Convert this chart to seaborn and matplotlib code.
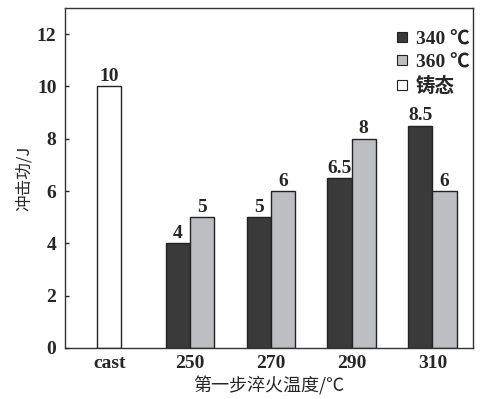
import pandas as pd
import matplotlib
matplotlib.use("Agg")
import matplotlib.pyplot as plt
import seaborn as sns
from matplotlib.lines import Line2D

# data
categories = ["cast", "250", "270", "290", "310"]
temps = ["250", "270", "290", "310"]
impact_340 = [4, 5, 6.5, 8.5]
impact_360 = [5, 6, 8, 6]
cast_value = [10]
series_names = ["340 ℃", "360 ℃", "铸态"]

sns.set_theme(style="ticks")
plt.rcParams["font.family"] = ["Liberation Serif", "Noto Sans CJK SC", "DejaVu Sans"]
plt.rcParams["font.weight"] = "bold"

df = pd.DataFrame({
    "temp": temps * 2,
    "impact": impact_340 + impact_360,
    "series": [series_names[0]] * len(temps) + [series_names[1]] * len(temps),
})
df_cast = pd.DataFrame({"temp": ["cast"], "impact": cast_value})

colors = {series_names[0]: "#3a3a3a", series_names[1]: "#bdbec2"}

fig, ax = plt.subplots(figsize=(4.8, 3.99), dpi=100)

sns.barplot(data=df, x="temp", y="impact", hue="series", order=categories,
            hue_order=series_names[:2], palette=colors, width=0.6,
            edgecolor="#222222", linewidth=1, saturation=1, ax=ax, legend=False)
sns.barplot(data=df_cast, x="temp", y="impact", order=categories, color="white",
            width=0.3, edgecolor="#222222", linewidth=1, saturation=1, ax=ax)

# value labels
for cont in ax.containers:
    labels = ["%g" % b.get_height() for b in cont]
    ax.bar_label(cont, labels=labels, padding=1, fontsize=14, fontweight="bold",
                 family="Liberation Serif")

ax.set_xlim(-0.55, 4.5)
ax.set_ylim(0, 13)
ax.set_yticks([0, 2, 4, 6, 8, 10, 12])
ax.tick_params(axis="y", direction="in", length=3, width=1, labelsize=14, pad=6)
ax.tick_params(axis="x", length=0, labelsize=14, pad=5)
for lab in ax.get_xticklabels() + ax.get_yticklabels():
    lab.set_fontweight("bold")
for sp in ax.spines.values():
    sp.set_linewidth(1)
    sp.set_color("#333333")

ax.set_xlabel("第一步淬火温度/℃", fontsize=13, family=["Noto Sans CJK SC", "DejaVu Sans"],
              labelpad=3)
ax.set_ylabel("冲击功/J", fontsize=12, family=["Noto Sans CJK SC", "DejaVu Sans"],
              labelpad=3)

handles = [
    Line2D([], [], marker="s", linestyle="", markersize=7, markerfacecolor=c,
           markeredgecolor="#222222", markeredgewidth=0.8)
    for c in ["#3a3a3a", "#bdbec2", "white"]
]
leg = ax.legend(handles, series_names, loc="upper right", frameon=False,
                handletextpad=0.2, handlelength=1.0, labelspacing=0.28,
                bbox_to_anchor=(1.035, 0.985),
                prop={"family": ["Liberation Serif", "Noto Sans CJK SC"], "weight": "bold", "size": 14})

fig.subplots_adjust(left=0.135, right=0.985, top=0.98, bottom=0.128)
fig.savefig("out.png", dpi=100)
